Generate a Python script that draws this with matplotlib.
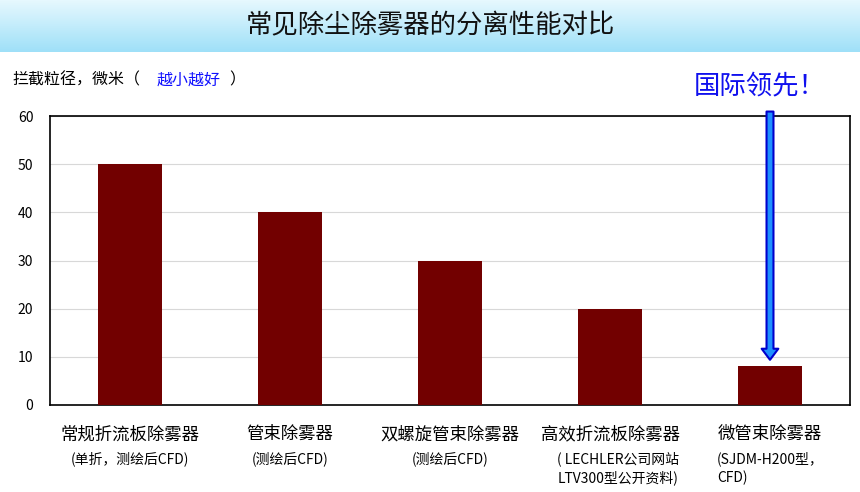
import matplotlib.pyplot as plt
import numpy as np

plt.rcParams['font.family'] = 'Noto Sans CJK SC'

categories = ['常规折流板除雾器', '管束除雾器', '双螺旋管束除雾器', '高效折流板除雾器', '微管束除雾器']
notes = ['(单折，测绘后CFD)', '(测绘后CFD)', '(测绘后CFD)', '( LECHLER公司网站\nLTV300型公开资料)', '(SJDM-H200型，\nCFD)']
values = [50, 40, 30, 20, 8]
yticks = [0, 10, 20, 30, 40, 50, 60]

fig = plt.figure(figsize=(8.6, 4.92), dpi=100)

# title band with gradient
band = fig.add_axes([0, 1 - 52 / 492, 1, 52 / 492])
grad = np.linspace(0, 1, 50).reshape(-1, 1)
band.imshow(grad, aspect='auto', cmap=plt.matplotlib.colors.LinearSegmentedColormap.from_list(
    'b', ['#e6f8fe', '#9fe0f8']), extent=[0, 1, 0, 1])
band.axis('off')
band.text(0.5, 0.5, '常见除尘除雾器的分离性能对比', ha='center', va='center', fontsize=19, color='#111111')

ax = fig.add_axes([50 / 860, 87 / 492, 800 / 860, 289 / 492])
x = np.arange(len(categories))
ax.bar(x, values, width=0.4, color='#720000', zorder=3)
ax.set_xlim(-0.5, 4.5)
ax.set_ylim(0, 60)
ax.set_yticks(yticks)
ax.tick_params(axis='y', length=0, labelsize=10, pad=12)
ax.set_xticks([])
ax.grid(axis='y', color='#d8d8d8', linewidth=0.8, zorder=0)
for s in ax.spines.values():
    s.set_linewidth(1.2)

for i, (c, n) in enumerate(zip(categories, notes)):
    ax.text(i, -0.07, c, transform=ax.get_xaxis_transform(), ha='center', va='top', fontsize=12.5)
    ax.text(i if '\n' not in n else i - 0.33, -0.16, n, transform=ax.get_xaxis_transform(),
            ha='center' if '\n' not in n else 'left', va='top', fontsize=10, linespacing=1.4)

fig.text(12 / 860, 1 - 80 / 492, '拦截粒径，微米（', fontsize=11.5, va='center')
fig.text(157 / 860, 1 - 80 / 492, '越小越好', fontsize=11.5, va='center', color='#1010ff')
fig.text(229 / 860, 1 - 80 / 492, '）', fontsize=11.5, va='center')

ax.annotate('', xy=(4, 8.8), xytext=(4, 61.5), annotation_clip=False,
            arrowprops=dict(arrowstyle='simple,head_width=1.2,head_length=0.8,tail_width=0.5',
                            fc='#1e90ff', ec='#0000cc', lw=1.5))
fig.text(760 / 860, 1 - 86 / 492, '国际领先！', fontsize=19, color='#1010ee', ha='center', va='center')

fig.savefig('out.png', dpi=100)
